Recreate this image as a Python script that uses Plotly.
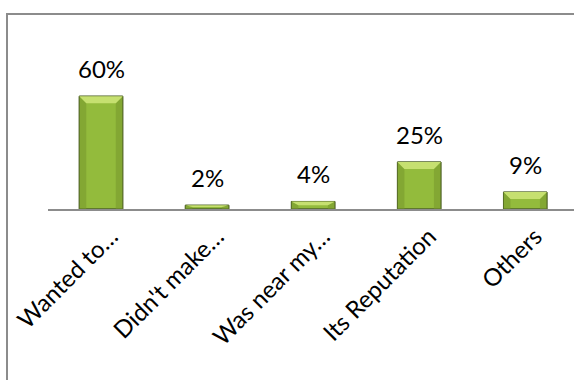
import plotly.graph_objects as go

# Survey: reasons for choosing the store
categories = ["Wanted to…", "Didn't make…", "Was near my…", "Its Reputation", "Others"]
shares = [60, 2, 4, 25, 9]
share_labels = ["60%", "2%", "4%", "25%", "9%"]

FONT = "Lato"
BODY = "#93bb3c"
EDGE = "#4f6228"
LIGHT = "#c6e070"
DARK = "#76982c"

BAR_W = 0.41          # bar width in category units
PX_X = 106.0          # pixels per category
PX_Y = 1.88           # pixels per percentage point
BEVEL_PX = 7.0

idx = list(range(len(categories)))

fig = go.Figure()

fig.add_trace(go.Bar(
    x=idx, y=shares, width=BAR_W,
    marker=dict(color=BODY, line=dict(color=EDGE, width=1)),
    hoverinfo="skip", showlegend=False,
))

# bevel facets drawn from each bar's value
bx = BEVEL_PX / PX_X
top_x, top_y, side_x, side_y = [], [], [], []
for i, v in zip(idx, shares):
    l, r = i - BAR_W / 2, i + BAR_W / 2
    d = min(BEVEL_PX / PX_Y, v * 0.5)
    top_x += [l, r, r - bx, l + bx, l, None]
    top_y += [v, v, v - d, v - d, v, None]
    side_x += [l, l + bx, l + bx, l, l, None, r, r - bx, r - bx, r, r, None]
    side_y += [v, v - d, 0, 0, v, None, v, v - d, 0, 0, v, None]

fig.add_trace(go.Scatter(x=side_x, y=side_y, fill="toself", fillcolor=DARK,
                         line=dict(width=0), mode="lines", hoverinfo="skip",
                         showlegend=False, opacity=0.55))
fig.add_trace(go.Scatter(x=top_x, y=top_y, fill="toself", fillcolor=LIGHT,
                         line=dict(width=0), mode="lines", hoverinfo="skip",
                         showlegend=False))
fig.add_trace(go.Bar(
    x=idx, y=shares, width=BAR_W,
    marker=dict(color="rgba(0,0,0,0)", line=dict(color=EDGE, width=1)),
    hoverinfo="skip", showlegend=False,
))

for i, v, t in zip(idx, shares, share_labels):
    fig.add_annotation(x=i, y=v, text=t, showarrow=False, yanchor="middle",
                       yshift=28, font=dict(family=FONT, size=24, color="#000"))

# chart frame
fig.add_shape(type="rect", xref="paper", yref="paper",
              x0=-41 / 526, x1=1.2, y0=-1.0, y1=1 + 6 / 189,
              line=dict(color="#8c8c8c", width=2), fillcolor="rgba(0,0,0,0)",
              layer="below")

fig.update_layout(
    width=574, height=380,
    margin=dict(l=48, r=0, t=20, b=171),
    paper_bgcolor="white", plot_bgcolor="white",
    barmode="overlay",
    font=dict(family=FONT, size=24, color="#000"),
    xaxis=dict(
        range=[-0.5, 4.46], tickmode="array", tickvals=idx, ticktext=categories,
        tickangle=-45, showgrid=False, zeroline=False, showline=True,
        linecolor="#8c8c8c", linewidth=2, ticks="", ticklabelstandoff=2,
        ticklabelshift=10,
        tickfont=dict(family=FONT, size=24, color="#000"),
    ),
    yaxis=dict(range=[0, 189 / PX_Y], visible=False, showgrid=False,
               zeroline=False),
)

fig.write_html("out.html")
